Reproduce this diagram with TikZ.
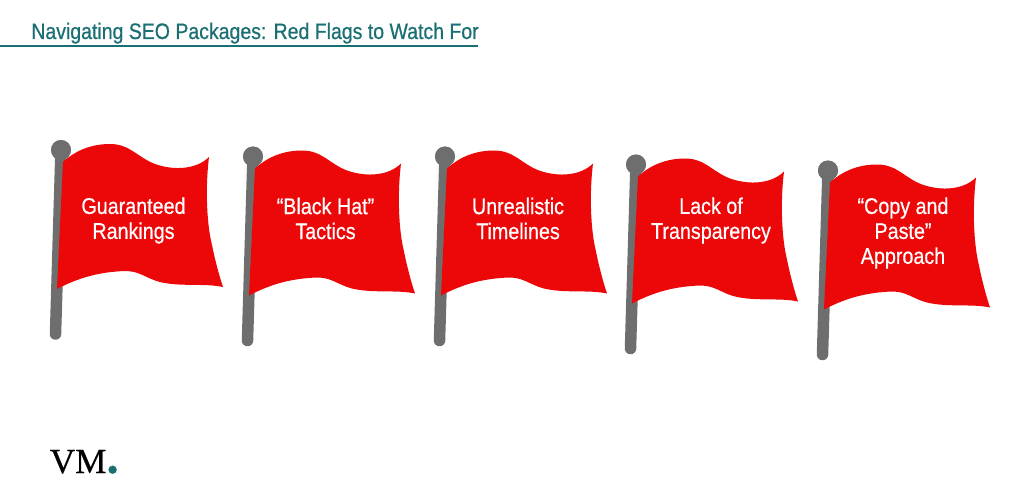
\documentclass[tikz,border=0pt]{standalone}
\usepackage{fontspec}
\setmainfont[FakeStretch=0.87,FakeBold=0.6]{Liberation Sans}
\newfontfamily\logofont[FakeBold=0.5]{Liberation Serif}
\usepackage{tikz}
\definecolor{flagred}{HTML}{EC0709}
\definecolor{polegray}{HTML}{6E6E6E}
\definecolor{titleteal}{HTML}{1A6F73}
\tikzset{
  flagcloth/.style={fill=flagred,draw=none},
  polestick/.style={draw=polegray,line width=0.23cm,line cap=round},
  poleball/.style={circle,fill=polegray,minimum size=0.4cm,inner sep=0pt},
  flaglabel/.style={text=white,align=center,font=\fontsize{12.9}{14.2}\selectfont,inner sep=0pt},
}
\newcommand{\flagcloth}{(63,162) .. controls (76,150) and (92,144) .. (110,144)
  .. controls (130,144) and (137,157) .. (155,164)
  .. controls (175,171) and (197,169) .. (209,157)
  .. controls (205,190) and (207,225) .. (212,245)
  .. controls (215,260) and (219,275) .. (223,287)
  .. controls (205,283) and (180,287) .. (160,282)
  .. controls (145,278) and (140,271) .. (125,271)
  .. controls (100,272) and (80,277) .. (57,289) -- cycle}
\begin{document}
\begin{tikzpicture}[x=0.02cm,y=-0.02cm]
\useasboundingbox (0,0) rectangle (1024,500);
% title
\node [anchor=base west,inner sep=0pt,text=titleteal,font=\fontsize{12.75}{16}\selectfont] (title) at (31,39) {Navigating SEO Packages: Red Flags to Watch For};
\coordinate (rulestart) at (0,46);
\coordinate (ruleend) at (478,46);
\draw [titleteal,line width=0.04cm] (rulestart) -- (ruleend);
% flags
\foreach \name/\dx/\dy in {one/0/0,two/192/6.5,three/384/6.5,four/575/14.5,five/767/20.5} {
  \begin{scope}[shift={(\dx*0.02cm,-\dy*0.02cm)}]
    \node [poleball] (ball\name) at (61,150) {};
    \coordinate (foot\name) at (55.5,334);
    \draw [polestick] (ball\name.center) -- (foot\name);
    \fill [flagcloth] \flagcloth;
    \node [poleball] at (61,150) {};
  \end{scope}
}
% labels
\node [flaglabel] (labelone) at (133.5,220.5) {Guaranteed\\Rankings};
\node [flaglabel] (labeltwo) at (325.5,218.5) {“Black Hat”\\Tactics};
\node [flaglabel] (labelthree) at (518,218.5) {Unrealistic\\Timelines};
\node [flaglabel] (labelfour) at (711,220.5) {Lack of\\Transparency};
\node [flaglabel] (labelfive) at (903,233) {“Copy and\\Paste”\\Approach};
% logo
\node [anchor=base west,inner sep=0pt,font=\logofont\fontsize{20}{24}\selectfont] (logo) at (49.5,473) {VM\textcolor{titleteal}{\bfseries\fontsize{28}{24}\selectfont .}};
\end{tikzpicture}
\end{document}
